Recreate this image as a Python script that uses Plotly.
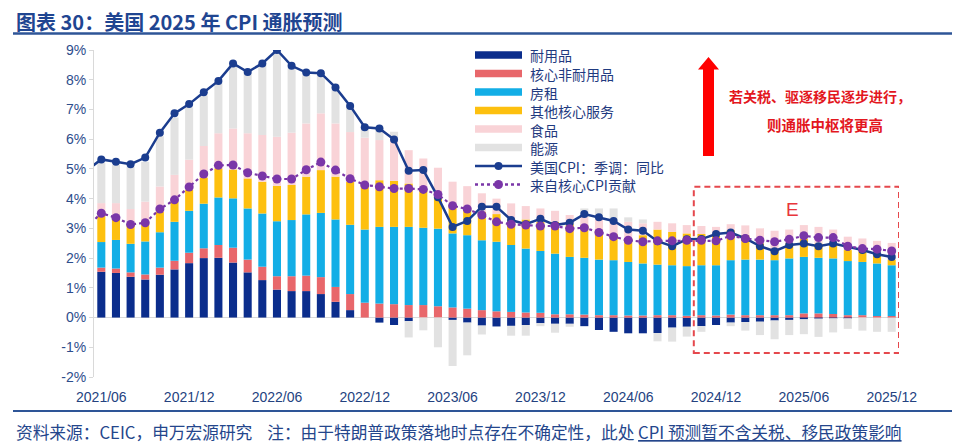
import plotly.graph_objects as go
import pandas as pd

# ---------------- data ----------------
months = [p.strftime("%Y/%m") for p in pd.period_range("2021-05", "2025-12", freq="M")]
bar_months = months[1:]            # bars start 2021/06
tick_months = months[1::6]

durable = [1.54, 1.50, 1.37, 1.28, 1.44, 1.62, 1.83, 2.00, 2.01, 1.85,
           1.52, 1.26, 0.94, 0.89, 0.89, 0.79, 0.53, 0.25, 0.00, -0.17,
           -0.25, -0.12, 0.00, 0.00, -0.08, -0.17, -0.27, -0.30, -0.28, -0.25,
           -0.19, -0.21, -0.21, -0.29, -0.42, -0.48, -0.53, -0.53, -0.52, -0.34,
           -0.31, -0.29, -0.25, -0.17, -0.15, -0.14, -0.10, -0.08, -0.06, -0.03,
           -0.02, -0.02, 0.00, 0.00, 0.00]
nondurable = [0.14, 0.15, 0.15, 0.17, 0.24, 0.29, 0.35, 0.33, 0.43, 0.50,
              0.43, 0.45, 0.45, 0.50, 0.52, 0.57, 0.50, 0.54, 0.50, 0.47,
              0.45, 0.42, 0.42, 0.38, 0.34, 0.30, 0.25, 0.21, 0.19, 0.17,
              0.16, 0.11, 0.11, 0.10, 0.08, 0.08, 0.07, 0.07, 0.08, 0.08,
              0.06, 0.08, 0.07, 0.10, 0.08, 0.08, 0.08, 0.08, 0.14, 0.14,
              0.12, 0.08, 0.08, 0.05, 0.05]
rent = [0.86, 0.96, 0.96, 1.11, 1.19, 1.31, 1.41, 1.50, 1.60, 1.66,
        1.72, 1.79, 1.85, 1.89, 2.06, 2.16, 2.27, 2.33, 2.46, 2.58,
        2.60, 2.63, 2.60, 2.61, 2.49, 2.47, 2.35, 2.34, 2.25, 2.15,
        2.08, 2.04, 1.93, 1.91, 1.87, 1.85, 1.80, 1.75, 1.70, 1.68,
        1.67, 1.68, 1.69, 1.83, 1.87, 1.87, 1.85, 1.91, 1.90, 1.87,
        1.87, 1.82, 1.79, 1.77, 1.71]
other_services = [0.88, 0.70, 0.63, 0.57, 0.70, 0.67, 0.71, 0.88, 0.98, 0.97,
                  1.01, 1.07, 1.19, 1.18, 1.27, 1.44, 1.44, 1.45, 1.49, 1.57,
                  1.55, 1.46, 1.29, 1.19, 0.92, 0.90, 0.96, 0.93, 0.86, 0.98,
                  0.98, 1.07, 1.10, 1.10, 0.99, 0.88, 0.79, 0.95, 1.18, 1.12,
                  1.10, 1.05, 0.99, 1.01, 0.82, 0.55, 0.39, 0.50, 0.62, 0.48,
                  0.48, 0.37, 0.34, 0.31, 0.19]
food = [0.43, 0.54, 0.54, 0.77, 0.84, 0.91, 1.01, 1.06, 1.18, 1.38,
        1.52, 1.57, 1.65, 1.76, 1.79, 1.91, 1.79, 1.67, 1.60, 1.35,
        1.40, 1.12, 1.04, 0.86, 0.82, 0.75, 0.62, 0.52, 0.54, 0.45,
        0.45, 0.37, 0.31, 0.28, 0.36, 0.44, 0.56, 0.40, 0.26, 0.29,
        0.28, 0.27, 0.30, 0.20, 0.33, 0.50, 0.60, 0.47, 0.45, 0.56,
        0.49, 0.45, 0.45, 0.45, 0.56]
energy = [1.35, 1.28, 1.42, 1.34, 1.69, 1.93, 1.76, 1.70, 1.68, 2.10,
          2.02, 2.36, 2.81, 2.16, 1.63, 1.29, 1.12, 0.84, 0.35, 0.45,
          0.25, -0.55, -0.43, -1.00, -1.55, -1.10, -0.30, 0.00, -0.33, -0.36,
          -0.10, -0.30, -0.10, 0.28, 0.37, 0.42, 0.15, 0.13, -0.28, -0.47,
          -0.33, -0.19, 0.00, -0.12, -0.29, -0.45, -0.63, -0.51, -0.50, -0.62,
          -0.48, -0.36, -0.44, -0.48, -0.48]
# lines start one month earlier (2021/05), partly clipped at the left edge
cpi_yoy = [4.95,
           5.32, 5.24, 5.16, 5.38, 6.22, 6.87, 7.18, 7.58, 7.96, 8.55,
           8.26, 8.55, 9.00, 8.47, 8.24, 8.22, 7.74, 7.12, 6.40, 6.36,
           5.99, 4.94, 4.96, 4.05, 3.05, 3.25, 3.73, 3.73, 3.28, 3.14,
           3.32, 3.11, 3.19, 3.48, 3.37, 3.25, 2.96, 2.92, 2.57, 2.40,
           2.63, 2.64, 2.81, 2.86, 2.66, 2.40, 2.23, 2.44, 2.49, 2.40,
           2.49, 2.38, 2.27, 2.13, 2.04]
core_contrib = [3.05,
                3.51, 3.36, 3.13, 3.19, 3.65, 3.96, 4.39, 4.83, 5.12, 5.13,
                4.87, 4.76, 4.66, 4.66, 4.97, 5.23, 4.96, 4.67, 4.46, 4.40,
                4.34, 4.34, 4.31, 4.14, 3.76, 3.65, 3.45, 3.22, 3.14, 3.11,
                3.08, 3.08, 2.99, 3.02, 2.86, 2.72, 2.60, 2.55, 2.58, 2.58,
                2.60, 2.60, 2.58, 2.75, 2.66, 2.60, 2.55, 2.63, 2.75, 2.69,
                2.69, 2.40, 2.32, 2.30, 2.24]

y_ticks = list(range(-2, 10))
y_tick_text = [f"{v}%" for v in y_ticks]

bar_series = [
    ("耐用品", durable, "#0b2d8c"),
    ("核心非耐用品", nondurable, "#e8676b"),
    ("房租", rent, "#13aee6"),
    ("其他核心服务", other_services, "#fdc00f"),
    ("食品", food, "#f9d3d7"),
    ("能源", energy, "#e2e2e2"),
]
CPI_NAME, CPI_COLOR = "美国CPI：季调：同比", "#1b3d8f"
CORE_NAME, CORE_COLOR = "来自核心CPI贡献", "#7a36a8"

# ---------------- geometry helpers ----------------
# the page body has an 8px margin, so the figure is drawn 8px in from the window edge
OFF = 8
WIN_W, WIN_H = 960, 448
W, H = WIN_W - OFF, WIN_H - OFF
# plot area in window pixels: x 94..899, y 50..377
L, R, T, B = 94 - OFF, WIN_W - 899, 50 - OFF, WIN_H - 377
PW, PH = W - L - R, H - T - B


def px(x):
    """window pixel x -> paper x"""
    return (x - OFF - L) / PW


def py(y):
    """window pixel y -> paper y"""
    return (H - B - (y - OFF)) / PH


CJK = "Noto Sans CJK SC"
LAT = "Liberation Sans, Arial, sans-serif"
NAVY_TXT = "#1f3a80"

fig = go.Figure()
for name, vals, col in bar_series:
    fig.add_trace(go.Bar(x=bar_months, y=vals, name=name,
                         marker=dict(color=col, line=dict(width=0)),
                         showlegend=False))
fig.add_trace(go.Scatter(x=months, y=cpi_yoy, name=CPI_NAME, mode="lines+markers",
                         line=dict(color=CPI_COLOR, width=2.5),
                         marker=dict(size=8, color=CPI_COLOR), showlegend=False))
fig.add_trace(go.Scatter(x=months, y=core_contrib, name=CORE_NAME, mode="lines+markers",
                         line=dict(color=CORE_COLOR, width=2.2, dash="dot"),
                         marker=dict(size=9, color=CORE_COLOR), showlegend=False))

shapes = []
annotations = []

# title and rules
annotations.append(dict(x=px(14), y=py(21), xref="paper", yref="paper", xanchor="left",
                        yanchor="middle", showarrow=False,
                        text="<b>图表 30：美国 2025 年 CPI 通胀预测</b>",
                        font=dict(family=CJK, size=20, color="#1f4591")))
shapes.append(dict(type="line", xref="paper", yref="paper", x0=px(13), x1=px(955),
                   y0=py(33.5), y1=py(33.5), line=dict(color="#2e5597", width=2.5)))
shapes.append(dict(type="line", xref="paper", yref="paper", x0=px(13), x1=px(955),
                   y0=py(411), y1=py(411), line=dict(color="#2e5597", width=2)))
annotations.append(dict(x=px(14), y=py(432), xref="paper", yref="paper", xanchor="left",
                        yanchor="middle", showarrow=False,
                        text="资料来源：CEIC，申万宏源研究\u00a0\u00a0\u00a0\u00a0注：由于特朗普政策落地时点存在不确定性，此处 "
                             "<u>CPI 预测暂不含关税、移民政策影响</u>",
                        font=dict(family=CJK, size=16.7, color="#24468c")))

# manual legend (wide flat swatches as in the original)
leg_x0, leg_x1, leg_tx = 475, 522, 528
leg_y0, leg_dy = 55, 18.5


def legend_text(name, yk):
    return dict(x=px(leg_tx), y=py(yk), xref="paper", yref="paper",
                xanchor="left", yanchor="middle", valign="middle", height=17,
                showarrow=False, text=name,
                font=dict(family=CJK, size=14, color=NAVY_TXT))


for k, (name, _, col) in enumerate(bar_series):
    yk = leg_y0 + leg_dy * k
    shapes.append(dict(type="rect", xref="paper", yref="paper", x0=px(leg_x0), x1=px(leg_x1),
                       y0=py(yk + 3.7), y1=py(yk - 3.7), fillcolor=col, line=dict(width=0)))
    annotations.append(legend_text(name, yk))
for k, (name, col, dash, r) in enumerate([(CPI_NAME, CPI_COLOR, "solid", 4),
                                          (CORE_NAME, CORE_COLOR, "dot", 4.5)]):
    yk = leg_y0 + leg_dy * (6 + k)
    shapes.append(dict(type="line", xref="paper", yref="paper", x0=px(leg_x0), x1=px(leg_x1),
                       y0=py(yk), y1=py(yk), line=dict(color=col, width=2.4, dash=dash)))
    cx = (leg_x0 + leg_x1) / 2
    shapes.append(dict(type="circle", xref="paper", yref="paper", x0=px(cx - r), x1=px(cx + r),
                       y0=py(yk + r), y1=py(yk - r), fillcolor=col, line=dict(width=0)))
    annotations.append(legend_text(name, yk))

# red arrow
pts = [(708.5, 57), (719, 69.5), (714, 69.5), (714, 156), (703, 156), (703, 69.5), (698, 69.5)]
path = "M " + " L ".join(f"{px(x):.5f},{py(y):.5f}" for x, y in pts) + " Z"
shapes.append(dict(type="path", xref="paper", yref="paper", path=path,
                   fillcolor="#ff0000", line=dict(width=0)))
annotations.append(dict(x=px(727), y=py(96), xref="paper", yref="paper", xanchor="left",
                        yanchor="middle", showarrow=False, text="<b>若关税、驱逐移民逐步进行，</b>",
                        font=dict(family=CJK, size=14, color="#e3171e")))
annotations.append(dict(x=px(765), y=py(124), xref="paper", yref="paper", xanchor="left",
                        yanchor="middle", showarrow=False, text="<b>则通胀中枢将更高</b>",
                        font=dict(family=CJK, size=14.5, color="#e3171e")))

# forecast box "E"
shapes.append(dict(type="rect", xref="x", yref="y", x0=41.48, x1=55.5, y0=-1.19, y1=4.40,
                   line=dict(color="#e5484d", width=2, dash="6px,4px"), fillcolor="rgba(0,0,0,0)"))
annotations.append(dict(x=48.25, y=3.62, xref="x", yref="y", showarrow=False, text="E",
                        font=dict(family=LAT, size=19, color="#e8353b")))

fig.update_layout(
    width=W, height=H,
    margin=dict(l=L, r=R, t=T, b=B),
    barmode="relative", bargap=0.45,
    plot_bgcolor="white", paper_bgcolor="white",
    showlegend=False,
    shapes=shapes, annotations=annotations,
    xaxis=dict(type="category", categoryorder="array", categoryarray=months,
               range=[0.5, len(months) - 0.5], tickmode="array",
               tickvals=tick_months, ticktext=tick_months,
               showline=False, showgrid=False, zeroline=False, ticks="",
               ticklabelstandoff=10,
               tickfont=dict(family=LAT, size=14, color="#24427f")),
    yaxis=dict(range=[-2, 9], tickmode="array", tickvals=y_ticks, ticktext=y_tick_text,
               showgrid=False, zeroline=True, zerolinecolor="#d9d9d9", zerolinewidth=1,
               showline=True, linecolor="#d9d9d9", linewidth=1,
               ticks="outside", ticklen=4, tickcolor="#d9d9d9",
               tickfont=dict(family=LAT, size=14, color="#2d4d8c")),
)

fig.write_html("out.html")
